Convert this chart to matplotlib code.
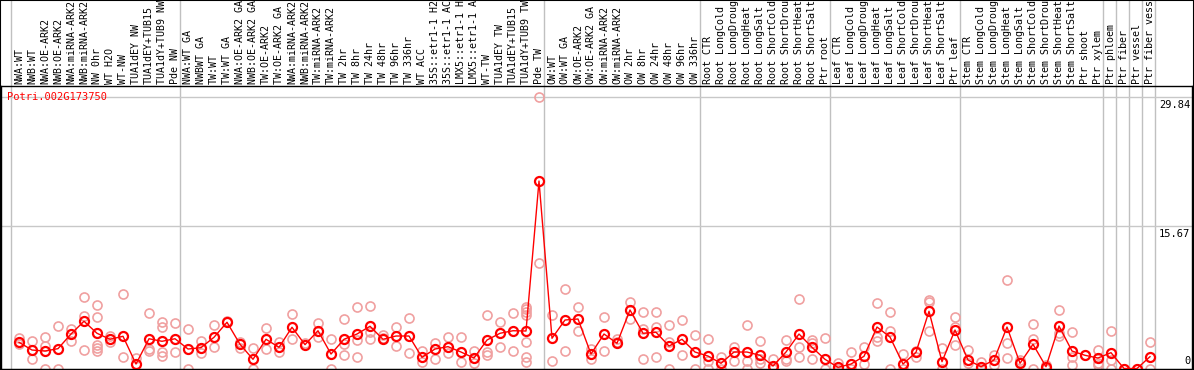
import matplotlib

matplotlib.use("Agg")
import matplotlib.pyplot as plt  # noqa: E402
from matplotlib.patches import Rectangle  # noqa: E402
from matplotlib.transforms import blended_transform_factory  # noqa: E402

gene = "Potri.002G173750"

samples = [
    "NWA:WT", "NWB:WT", "NWA:OE-ARK2", "NWB:OE-ARK2", "NWA:miRNA-ARK2",
    "NWB:miRNA-ARK2", "NW 0hr", "WT H2O", "WT-NW", "TUA1dEY NW",
    "TUA1dEY+TUB15", "TUA1dY+TUB9 NW", "Pde NW",
    "NWA:WT GA", "NWBWT GA", "TW:WT", "TW:WT GA", "NWA:OE-ARK2 GA",
    "NWB:OE-ARK2 GA", "TW:OE-ARK2", "TW:OE-ARK2 GA", "NWA:miRNA-ARK2",
    "NWB:miRNA-ARK2", "TW:miRNA-ARK2", "TW:miRNA-ARK2", "TW 2hr", "TW 8hr",
    "TW 24hr", "TW 48hr", "TW 96hr", "TW 336hr", "WT ACC", "35S::etr1-1 H2",
    "35S::etr1-1 AC", "LMX5::etr1-1 H", "LMX5::etr1-1 A", "WT-TW",
    "TUA1dEY TW", "TUA1dEY+TUB15", "TUA1dY+TUB9 TW", "Pde TW",
    "OW:WT", "OW:WT GA", "OW:OE-ARK2", "OW:OE-ARK2 GA", "OW:miRNA-ARK2",
    "OW:miRNA-ARK2", "OW 2hr", "OW 8hr", "OW 24hr", "OW 48hr", "OW 96hr",
    "OW 336hr",
    "Root CTR", "Root LongCold", "Root LongDroug", "Root LongHeat",
    "Root LongSalt", "Root ShortCold", "Root ShortDrou", "Root ShortHeat",
    "Root ShortSalt", "Ptr root",
    "Leaf CTR", "Leaf LongCold", "Leaf LongDroug", "Leaf LongHeat",
    "Leaf LongSalt", "Leaf ShortCold", "Leaf ShortDrou", "Leaf ShortHeat",
    "Leaf ShortSalt", "Ptr leaf",
    "Stem CTR", "Stem LongCold", "Stem LongDroug", "Stem LongHeat",
    "Stem LongSalt", "Stem ShortCold", "Stem ShortDrou", "Stem ShortHeat",
    "Stem ShortSalt", "Ptr shoot", "Ptr xylem",
    "Ptr phloem", "Ptr fiber", "Ptr vessel", "Ptr fiber vess",
]

# first sample index of each group
group_starts = [0, 13, 41, 53, 63, 73, 84, 85, 86, 87, 88]

means = [
    2.88, 2.03, 1.92, 2.18, 3.79, 5.19, 3.87, 3.21, 3.54, 0.49, 3.27, 2.99, 3.27,
    2.14, 2.29, 3.43, 5.08, 2.66, 1.01, 3.21, 2.33, 4.53, 2.62, 4.15, 1.59, 3.21,
    3.79, 4.64, 3.21, 3.57, 3.57, 1.23, 2.14, 2.40, 1.81, 1.15, 3.13, 3.87, 4.15,
    4.12, 20.6,
    3.32, 5.33, 5.44, 1.59, 3.79, 2.77, 6.43, 3.87, 3.98, 2.47, 3.21, 1.81,
    1.37, 0.57, 1.81, 1.81, 1.45, 0.27, 1.81, 3.79, 2.33, 1.01,
    0.13, 0.49, 1.34, 4.56, 3.46, 0.49, 1.78, 6.29, 0.75, 4.23,
    0.93, 0.20, 0.93, 4.56, 0.57, 2.66, 0.20, 4.67, 1.92, 1.45, 1.15,
    1.74, 0.0, 0.0, 1.30,
]

replicates = [
    [3.32, 2.69], [3.02, 1.01], [3.43, 2.47, 0.0], [4.64, 0.0], [4.34, 2.99],
    [7.82, 5.80, 2.0], [6.95, 5.63, 2.55, 2.25, 1.96], [3.57, 2.91],
    [8.15, 1.23], [1.15], [6.07, 2.18, 1.89], [5.11, 4.59, 1.81, 1.37],
    [4.97, 1.81],
    [4.34, 0.0], [3.05, 1.67], [4.78, 2.33], [5.25], [2.95, 2.22], [2.22, 0.0],
    [4.42, 2.14], [2.88, 1.85], [5.99, 3.24], [2.77], [5.03, 3.43], [3.21, 0.0],
    [5.44, 2.66, 1.48], [6.73, 3.13, 1.30], [6.87, 3.98, 3.21], [3.68, 3.32],
    [4.53, 2.47], [5.55, 1.74], [1.96, 0.71], [2.84, 1.08], [3.49, 1.67],
    [3.43, 0.71], [1.96, 0.57], [5.91, 1.81, 1.48], [5.14, 2.40], [6.13, 1.96],
    [6.79, 6.51, 6.21, 5.91, 2.91, 1.30, 0.71], [29.84, 11.6],
    [5.91, 0.79], [8.70, 1.96], [6.73, 4.09], [2.14, 1.04], [5.66, 1.92],
    [3.27, 2.91], [7.27, 5.44], [6.24, 4.31, 1.08], [6.24, 4.59, 1.23],
    [4.81, 2.91, 0.0], [5.30, 1.52], [3.68, 0.0],
    [3.21, 0.79, 0.0], [1.23, 0.0], [2.40, 0.79], [4.78, 0.79, 0.0],
    [3.02, 1.01, 0.57], [1.01, 0.0], [3.10, 1.01, 0.79], [7.64, 2.36, 1.23],
    [3.13, 2.84, 1.01], [3.32, 0.0],
    [0.57, 0.0], [1.81, 0.0], [2.33, 0.49], [7.16, 3.43, 2.99], [6.24, 4.15, 0.0],
    [1.59, 0.0], [1.96, 1.30], [7.53, 7.31, 4.12], [2.22, 0.0], [5.63, 4.59, 2.58],
    [2.03, 0.57], [0.75, 0.0], [1.45, 0.38], [9.73, 2.77, 1.12], [0.93, 0.75],
    [4.89, 3.21, 0.0], [0.38, 0.0], [6.43, 3.87, 3.57], [4.01, 1.23, 0.38],
    [1.45], [2.03, 0.57, 0.38],
    [4.15, 0.93, 0.0], [0.0], [0.0], [2.91, 0.0],
]

y_ticks = [29.84, 15.67, 0]

W, H = 1194, 370
fig = plt.figure(figsize=(W / 100, H / 100), dpi=100)
fig.patch.set_facecolor("white")

# plot frame in pixels: x 1..1192, y 86..369 (from top)
left, right, top, bottom = 1, 1192, 86, 369
ax = fig.add_axes([left / W, (H - bottom) / H, (right - left) / W, (bottom - top) / H])
ax.set_xlim((left - 19) / 13, (right - 19) / 13)
ax.set_ylim(-(bottom - 368.5) / 9.1, (368.5 - top) / 9.1)
ax.set_xticks([])
ax.set_yticks([])
for s in ax.spines.values():
    s.set_color("black")
    s.set_linewidth(1)

mono = "DejaVu Sans Mono"
frac_up = bottom / (bottom - top)  # axes fraction reaching the top of the figure

for b in group_starts:
    ax.axvline(b - 0.615, ymin=0, ymax=frac_up, color="#c0c0c0", lw=1,
               clip_on=False, zorder=1)
for v in y_ticks[:2]:
    ax.axhline(v, color="#c8c8c8", lw=1, zorder=1)

xs = list(range(len(samples)))
for i, reps in enumerate(replicates):
    ax.plot([i] * len(reps), reps, ls="none", marker="o", ms=6.5, mfc="none",
            mec="#f0a0a0", mew=1.2, zorder=2)
ax.plot(xs, means, color="red", lw=1, marker="o", ms=6.5, mfc="none",
        mec="red", mew=1.6, zorder=3)

trans = blended_transform_factory(ax.transData, ax.transAxes)
for i, lab in enumerate(samples):
    ax.text(i, 1 + 2 / (bottom - top), lab, transform=trans, rotation=90,
            ha="center", va="bottom", fontsize=7.2, family=mono,
            color="black", clip_on=False)

ax.text(6 / (right - left), 29.84, gene, color="red", fontsize=7.5,
        family=mono, ha="left", va="center",
        transform=blended_transform_factory(ax.transAxes, ax.transData))

ytr = blended_transform_factory(ax.transAxes, ax.transData)
ax.text(0.9985, y_ticks[0] - 0.3, f"{y_ticks[0]:.2f}", transform=ytr,
        ha="right", va="top", fontsize=7.5, family=mono)
ax.text(0.9985, y_ticks[1] - 0.3, f"{y_ticks[1]:.2f}", transform=ytr,
        ha="right", va="top", fontsize=7.5, family=mono)
ax.text(0.9985, 0.3, f"{y_ticks[2]}", transform=ytr,
        ha="right", va="bottom", fontsize=7.5, family=mono)

fig.patches.append(Rectangle((0, 0), 1, 1, transform=fig.transFigure,
                             fill=False, edgecolor="black", lw=1.5))

fig.savefig("out.png", dpi=100)
